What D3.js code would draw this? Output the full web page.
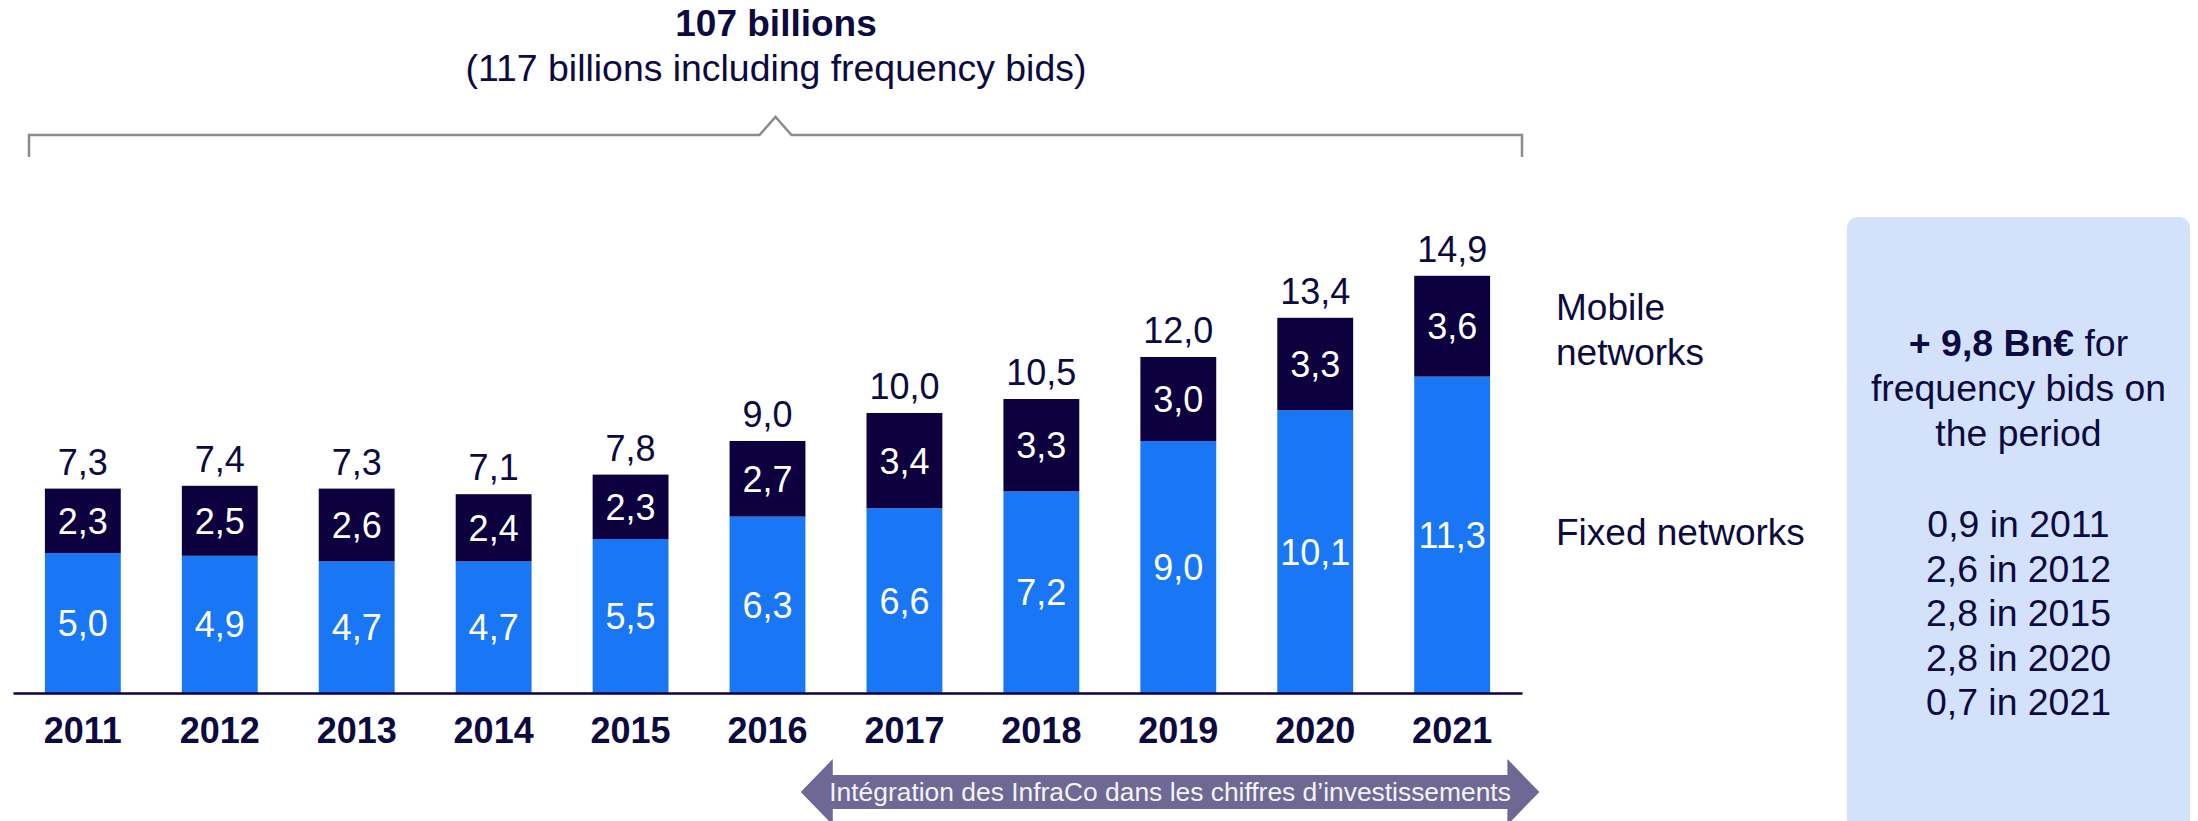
<!DOCTYPE html>
<html>
<head>
<meta charset="utf-8">
<script src="https://cdn.jsdelivr.net/npm/d3@7"></script>
<style>
  html, body { margin: 0; padding: 0; background: #ffffff; }
  svg { display: block; font-family: "Liberation Sans", Arial, Helvetica, sans-serif; }
</style>
</head>
<body>
<svg id="chart" width="2198" height="821"></svg>
<script>
// Investment per year, in billions of euros
const years = ["2011", "2012", "2013", "2014", "2015", "2016", "2017", "2018", "2019", "2020", "2021"];
const fixedNetworks  = [5.0, 4.9, 4.7, 4.7, 5.5, 6.3, 6.6, 7.2, 9.0, 10.1, 11.3];
const mobileNetworks = [2.3, 2.5, 2.6, 2.4, 2.3, 2.7, 3.4, 3.3, 3.0, 3.3, 3.6];
const totals         = [7.3, 7.4, 7.3, 7.1, 7.8, 9.0, 10.0, 10.5, 12.0, 13.4, 14.9];

const seriesKeys   = ["fixed", "mobile"];
const seriesLabels = [["Fixed networks"], ["Mobile", "networks"]];

const headline    = "107 billions";
const subHeadline = "(117 billions including frequency bids)";
const arrowText   = "Intégration des InfraCo dans les chiffres d’investissements";
const arrowFrom   = "2017";
const arrowTo     = "2021";

const bidsTitle = ["+ 9,8 Bn€", " for"];
const bidsLines = ["frequency bids on", "the period"];
const bidYears  = ["2011", "2012", "2015", "2020", "2021"];
const bidValues = [0.9, 2.6, 2.8, 2.8, 0.7];

const NAVY = "#0c003f";
const BLUE = "#1976f4";
const TEXT = "#0c0a3e";

const svg = d3.select("#chart");

const locale = d3.formatLocale({ decimal: ",", thousands: " ", grouping: [3], currency: ["", "€"] });
const fmt = locale.format(".1f");

const rows = years.map((y, i) => ({ year: y, fixed: fixedNetworks[i], mobile: mobileNetworks[i], total: totals[i] }));
const stacked = d3.stack().keys(seriesKeys)(rows);

const x = d3.scaleBand().domain(years).range([13, 1522]).paddingInner(0.446).paddingOuter(0.233);
const y = d3.scaleLinear().domain([0, 15]).range([693, 273]);
const color = d3.scaleOrdinal().domain(seriesKeys).range([BLUE, NAVY]);

// Stacked bars
const layers = svg.append("g").selectAll("g")
  .data(stacked).join("g")
  .attr("fill", d => color(d.key));

layers.selectAll("rect")
  .data(d => d.map(p => ({ key: d.key, p })))
  .join("rect")
  .attr("x", d => x(d.p.data.year))
  .attr("width", x.bandwidth())
  .attr("y", d => y(d.p[1]))
  .attr("height", d => y(d.p[0]) - y(d.p[1]));

// Segment values
layers.selectAll("text")
  .data(d => d.map(p => ({ key: d.key, p })))
  .join("text")
  .attr("x", d => x(d.p.data.year) + x.bandwidth() / 2)
  .attr("y", d => (y(d.p[0]) + y(d.p[1])) / 2 + 13)
  .attr("text-anchor", "middle")
  .attr("fill", "#ffffff")
  .style("font-size", "36px")
  .text(d => fmt(d.p[1] - d.p[0]));

// Totals above bars
svg.append("g").selectAll("text")
  .data(rows).join("text")
  .attr("x", d => x(d.year) + x.bandwidth() / 2)
  .attr("y", d => y(d.total) - 14)
  .attr("text-anchor", "middle")
  .attr("fill", TEXT)
  .style("font-size", "36px")
  .text(d => fmt(d.total));

// Category axis
const xAxis = svg.append("g")
  .attr("transform", `translate(0,${y(0)})`)
  .call(d3.axisBottom(x).tickSize(0).tickSizeOuter(0).tickPadding(24));
xAxis.select(".domain").attr("stroke", NAVY).attr("stroke-width", 2.5);
xAxis.selectAll("text")
  .attr("fill", TEXT)
  .style("font-size", "36px")
  .style("font-weight", "bold")
  .style("font-family", "\"Liberation Sans\", Arial, sans-serif");

// Series labels to the right of the last bar
const lastIdx = years.length - 1;
const labelX = 1556;
const mobileMid = (y(stacked[1][lastIdx][0]) + y(stacked[1][lastIdx][1])) / 2;
svg.append("text")
  .attr("x", labelX).attr("y", mobileMid - 6)
  .attr("fill", TEXT).style("font-size", "37px")
  .selectAll("tspan").data(seriesLabels[1]).join("tspan")
  .attr("x", labelX).attr("dy", (d, i) => i === 0 ? 0 : 45)
  .text(d => d);
svg.append("text")
  .attr("x", labelX).attr("y", 545)
  .attr("fill", TEXT).style("font-size", "37px")
  .text(seriesLabels[0][0]);

// Headline and bracket over the whole period
const bracketL = x.range()[0] + 16;
const bracketR = x.range()[1];
const bracketY = 135;
const bracketMid = (bracketL + bracketR) / 2;
const head = svg.append("g");
head.append("text")
  .attr("x", 776).attr("y", 36)
  .attr("text-anchor", "middle").attr("fill", TEXT)
  .style("font-size", "37px").style("font-weight", "bold")
  .text(headline);
head.append("text")
  .attr("x", 776).attr("y", 81)
  .attr("text-anchor", "middle").attr("fill", TEXT)
  .style("font-size", "37.4px")
  .text(subHeadline);
const bracketPath = d3.path();
bracketPath.moveTo(bracketL, 157);
bracketPath.lineTo(bracketL, bracketY);
bracketPath.lineTo(bracketMid - 16, bracketY);
bracketPath.lineTo(bracketMid, bracketY - 18);
bracketPath.lineTo(bracketMid + 16, bracketY);
bracketPath.lineTo(bracketR, bracketY);
bracketPath.lineTo(bracketR, 157);
head.append("path")
  .attr("d", bracketPath.toString())
  .attr("fill", "none")
  .attr("stroke", "#8c8c8c")
  .attr("stroke-width", 2.5);

// Double arrow under the InfraCo years
const aL = x(arrowFrom) - x.step() * 0.48;
const aR = x(arrowTo) + x.bandwidth() + x.step() * 0.36;
const aY = 792, shaftH = 17, headH = 33, headW = 32;
const arrow = d3.path();
arrow.moveTo(aL, aY);
arrow.lineTo(aL + headW, aY - headH);
arrow.lineTo(aL + headW, aY - shaftH);
arrow.lineTo(aR - headW, aY - shaftH);
arrow.lineTo(aR - headW, aY - headH);
arrow.lineTo(aR, aY);
arrow.lineTo(aR - headW, aY + headH);
arrow.lineTo(aR - headW, aY + shaftH);
arrow.lineTo(aL + headW, aY + shaftH);
arrow.lineTo(aL + headW, aY + headH);
arrow.closePath();
svg.append("path").attr("d", arrow.toString()).attr("fill", "#6e6894");
svg.append("text")
  .attr("x", (aL + aR) / 2).attr("y", aY + 9)
  .attr("text-anchor", "middle")
  .attr("fill", "#f4f3f8")
  .style("font-size", "26.4px")
  .text(arrowText);

// Frequency bids panel
const panel = svg.append("g");
panel.append("rect")
  .attr("x", 1847).attr("y", 217)
  .attr("width", 343).attr("height", 640)
  .attr("rx", 11).attr("ry", 11)
  .attr("fill", "#d3e2fa");
const pcx = 1847 + 343 / 2;
const t1 = panel.append("text")
  .attr("x", pcx).attr("y", 356)
  .attr("text-anchor", "middle").attr("fill", TEXT)
  .style("font-size", "37.4px");
t1.append("tspan").style("font-weight", "bold").text(bidsTitle[0]);
t1.append("tspan").text(bidsTitle[1]);
panel.selectAll("text.line")
  .data(bidsLines).join("text").attr("class", "line")
  .attr("x", pcx).attr("y", (d, i) => 401 + i * 45)
  .attr("text-anchor", "middle").attr("fill", TEXT)
  .style("font-size", "37.4px")
  .text(d => d);
panel.selectAll("text.bid")
  .data(bidYears.map((yr, i) => ({ yr, v: bidValues[i] })))
  .join("text").attr("class", "bid")
  .attr("x", pcx).attr("y", (d, i) => 537 + i * 44.6)
  .attr("text-anchor", "middle").attr("fill", TEXT)
  .style("font-size", "37.4px")
  .text(d => `${fmt(d.v)} in ${d.yr}`);
</script>
</body>
</html>
